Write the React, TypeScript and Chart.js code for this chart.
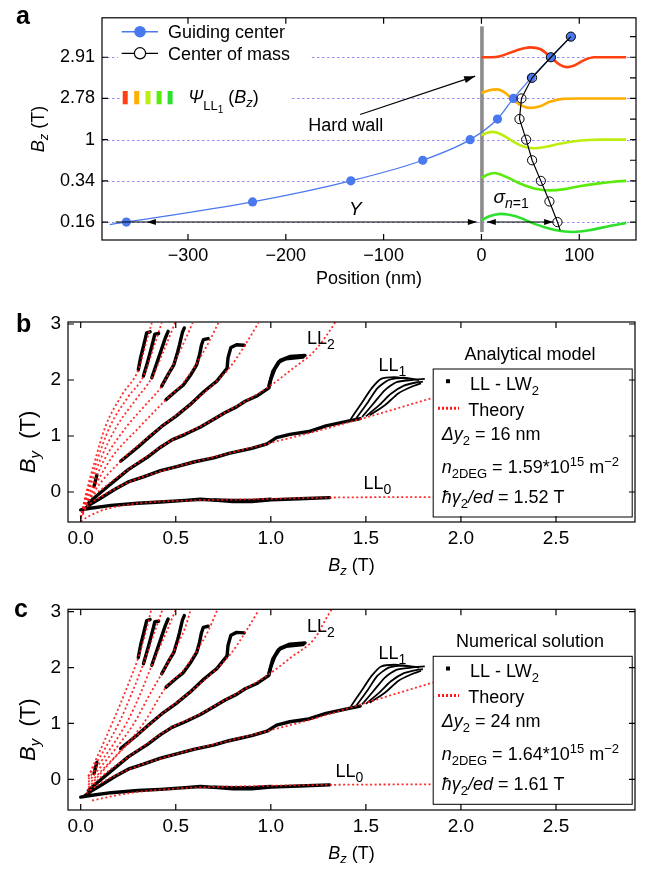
import React, { useEffect, useRef } from 'react';
import { Chart, registerables } from 'chart.js';

Chart.register(...registerables);

const FONT = '"Liberation Sans", Arial, Helvetica, sans-serif';
Chart.defaults.font.family = FONT;
type P = [number, number];

// ---------------- Panel a data ----------------
const positionTicks = [-300, -200, -100, 0, 100];
const bzLevels = [0, 1, 2, 3, 4];
const bzLevelLabels = ['0.16', '0.34', '1', '2.78', '2.91'];
const bzMinorLevels = [0, 0.5, 1, 1.5, 2, 2.5, 3, 3.5, 4, 4.5];
const guidingCenter: P[] = [[-380, -0.06], [-363, 0], [-234, 0.49], [-133.5, 1.0], [-60, 1.5], [-11.6, 2.0], [16.4, 2.5], [32.7, 3.0], [51, 3.5], [71, 4.0], [91.4, 4.5]];
const centerOfMass: P[] = [[80.5, -0.2], [77.7, 0], [69.5, 0.5], [60.7, 1.0], [51.8, 1.5], [45.7, 2.0], [38.9, 2.5], [40.9, 3.0], [51.8, 3.5], [71, 4.0], [91.4, 4.5]];
const psi291: P[] = [[0, 4.0], [10, 4.0], [20, 4.03], [35, 4.16], [50, 4.24], [60, 4.2], [71, 4.0], [80, 3.82], [87, 3.76], [95, 3.8], [105, 3.93], [115, 4.0], [130, 4.0], [148, 4.0]];
const psi278: P[] = [[0, 3.13], [8, 3.2], [16, 3.22], [24, 3.14], [30, 3.02], [40, 2.84], [50, 2.77], [60, 2.81], [70, 2.92], [83, 2.99], [100, 3.0], [148, 3.0]];
const psi100: P[] = [[0, 2.11], [6, 2.17], [12, 2.19], [20, 2.13], [30, 1.99], [42, 1.84], [53, 1.79], [65, 1.82], [80, 1.9], [95, 1.96], [110, 1.99], [121, 2.0], [148, 2.0]];
const psi034: P[] = [[0, 1.07], [6, 1.15], [13, 1.19], [25, 1.1], [40, 0.93], [55, 0.81], [70, 0.77], [85, 0.8], [100, 0.87], [120, 0.94], [135, 0.98], [148, 1.0]];
const psi016: P[] = [[0, 0.04], [8, 0.14], [20, 0.2], [35, 0.14], [55, -0.05], [75, -0.19], [94, -0.24], [110, -0.2], [130, -0.1], [148, -0.02]];
const psiColors = ['#ff4010', '#ffae00', '#bdee10', '#5aeb0a', '#2ee02e'];
const wallSpan = [-0.24, 4.75];
const hardWallArrow: P[] = [[-124, 2.61], [-6.4, 3.54]];
const hardWallText: P = [-177, 2.21];
const yArrow = [-374, -342, -4.7];
const sigmaArrow = [5.5, 73.3];
const yTextPos: P = [-129, 0.16];
const sigmaTextPos: P = [12.3, 0.47];

// ---------------- Panels b / c data ----------------
const bzTicks = [0, 0.5, 1, 1.5, 2, 2.5];
const byTicks = [0, 1, 2, 3];

const dataLL0: P[] = [[0.0, -0.32], [0.05, -0.29], [0.16, -0.24], [0.3, -0.2], [0.42, -0.18], [0.55, -0.15], [0.63, -0.13], [0.72, -0.15], [0.8, -0.17], [0.9, -0.17], [1.0, -0.14], [1.15, -0.12], [1.31, -0.1]];
const dataLL0b: P[] = [[0.7, -0.14], [0.8, -0.15], [0.9, -0.15], [1.0, -0.13]];
const dataLL1: P[] = [[0.02, -0.3], [0.06, -0.2], [0.1, -0.12], [0.18, 0.05], [0.25, 0.18], [0.33, 0.27], [0.42, 0.38], [0.5, 0.45], [0.6, 0.54], [0.7, 0.61], [0.78, 0.69], [0.9, 0.78], [0.98, 0.86], [1.03, 0.97], [1.1, 1.03], [1.2, 1.08], [1.29, 1.18], [1.4, 1.26], [1.47, 1.31]];
const bundle1: P[] = [[1.42, 1.3], [1.48, 1.6], [1.53, 1.85], [1.58, 2.02], [1.65, 2.05], [1.72, 2.02]];
const bundle2: P[] = [[1.45, 1.32], [1.51, 1.6], [1.56, 1.85], [1.62, 2.0], [1.7, 2.04], [1.78, 2.0]];
const bundle3: P[] = [[1.48, 1.34], [1.54, 1.58], [1.6, 1.82], [1.66, 1.96], [1.74, 2.0], [1.81, 2.02]];
const bundle4: P[] = [[1.5, 1.35], [1.57, 1.55], [1.63, 1.75], [1.7, 1.9], [1.77, 1.96], [1.8, 1.97]];
const bundle5: P[] = [[1.52, 1.37], [1.6, 1.55], [1.67, 1.76], [1.74, 1.88], [1.79, 1.94]];
const dataLL2: P[] = [[0.04, -0.2], [0.08, -0.08], [0.15, 0.12], [0.25, 0.4], [0.35, 0.62], [0.42, 0.8], [0.48, 0.93], [0.55, 1.03], [0.63, 1.16], [0.7, 1.3], [0.76, 1.42], [0.82, 1.52], [0.865, 1.62], [0.93, 1.72], [0.99, 1.86], [1.0, 2.01], [1.02, 2.19], [1.05, 2.35], [1.1, 2.42], [1.18, 2.44]];
const dataLL2hook: P[] = [[0.99, 1.9], [1.01, 2.15], [1.04, 2.32], [1.08, 2.38], [1.17, 2.41]];
const dataA: P[] = [[0.21, 0.55], [0.3, 0.8], [0.36, 0.98], [0.426, 1.17], [0.5, 1.35], [0.575, 1.56], [0.65, 1.8], [0.716, 1.98], [0.77, 2.21], [0.775, 2.4], [0.79, 2.58], [0.82, 2.63], [0.86, 2.62]];
const dataE: P[] = [[0.449, 1.65], [0.5, 1.8], [0.54, 1.91], [0.58, 2.1], [0.61, 2.27], [0.625, 2.45], [0.635, 2.62], [0.645, 2.72], [0.67, 2.74]];
const dataT4: P[] = [[0.426, 1.89], [0.46, 2.1], [0.49, 2.27], [0.51, 2.5], [0.52, 2.63], [0.535, 2.85], [0.545, 2.93]];
const dataT3: P[] = [[0.374, 2.04], [0.4, 2.3], [0.425, 2.55], [0.445, 2.75], [0.46, 2.87]];
const dataT2: P[] = [[0.33, 2.07], [0.35, 2.3], [0.37, 2.55], [0.39, 2.82], [0.41, 2.83]];
const dataT1: P[] = [[0.303, 2.18], [0.315, 2.4], [0.33, 2.6], [0.347, 2.84], [0.365, 2.86]];
const dataBlip: P[] = [[0.07, 0.1], [0.085, 0.3]];

const thB1: P[] = [[0.0, -0.45], [0.03, 0.0], [0.07, 0.5], [0.13, 1.17], [0.22, 1.75], [0.303, 2.18], [0.347, 2.7], [0.374, 3.02]];
const thB2: P[] = [[0.0, -0.45], [0.035, 0.0], [0.08, 0.5], [0.154, 1.17], [0.25, 1.7], [0.33, 2.07], [0.39, 2.65], [0.426, 3.02]];
const thB3: P[] = [[0.0, -0.45], [0.04, 0.0], [0.1, 0.55], [0.189, 1.17], [0.29, 1.65], [0.374, 2.04], [0.44, 2.55], [0.496, 3.02]];
const thB4: P[] = [[0.0, -0.45], [0.05, 0.0], [0.12, 0.55], [0.242, 1.17], [0.34, 1.55], [0.426, 1.89], [0.49, 2.3], [0.55, 2.72], [0.589, 3.02]];
const thB5: P[] = [[0.0, -0.45], [0.06, 0.0], [0.16, 0.6], [0.312, 1.17], [0.449, 1.65], [0.54, 1.95], [0.61, 2.3], [0.67, 2.65], [0.724, 3.02]];
const thB6: P[] = [[0.0, -0.45], [0.07, 0.0], [0.21, 0.55], [0.426, 1.17], [0.575, 1.56], [0.716, 1.98], [0.79, 2.25], [0.86, 2.6], [0.935, 3.02]];
const thBLL2: P[] = [[0.0, -0.45], [0.04, -0.15], [0.11, 0.05], [0.25, 0.4], [0.48, 0.93], [0.63, 1.17], [0.76, 1.42], [0.87, 1.63], [0.99, 1.88], [1.11, 2.19], [1.23, 2.52], [1.32, 2.93], [1.34, 3.04]];
const thBLL1: P[] = [[0.0, -0.48], [0.03, -0.28], [0.1, -0.1], [0.25, 0.17], [0.42, 0.37], [0.6, 0.54], [0.78, 0.69], [1.0, 0.88], [1.2, 1.05], [1.53, 1.36], [1.9, 1.73]];
const thBLL0: P[] = [[0.0, -0.52], [0.05, -0.42], [0.13, -0.31], [0.34, -0.19], [0.6, -0.15], [0.9, -0.13], [1.3, -0.1], [1.9, -0.09]];

const thC1: P[] = [[0.04, 0.05], [0.165, 1.0], [0.25, 1.7], [0.303, 2.18], [0.347, 2.7], [0.37, 3.02]];
const thC2: P[] = [[0.04, 0.05], [0.2, 1.0], [0.27, 1.55], [0.33, 2.07], [0.39, 2.65], [0.428, 3.02]];
const thC3: P[] = [[0.04, 0.0], [0.24, 1.0], [0.31, 1.5], [0.374, 2.04], [0.44, 2.55], [0.498, 3.02]];
const thC4: P[] = [[0.04, -0.05], [0.28, 1.0], [0.36, 1.5], [0.426, 1.89], [0.49, 2.3], [0.55, 2.72], [0.577, 3.02]];
const thC5: P[] = [[0.04, -0.1], [0.33, 1.0], [0.449, 1.65], [0.54, 1.95], [0.61, 2.3], [0.67, 2.65], [0.717, 3.02]];
const thC6: P[] = [[0.04, -0.15], [0.21, 0.5], [0.426, 1.17], [0.575, 1.56], [0.716, 1.98], [0.79, 2.25], [0.86, 2.6], [0.935, 3.02]];
const thCLL2: P[] = [[0.035, -0.2], [0.11, 0.05], [0.25, 0.4], [0.48, 0.93], [0.63, 1.17], [0.76, 1.42], [0.87, 1.63], [0.99, 1.88], [1.11, 2.19], [1.23, 2.52], [1.3, 2.93], [1.32, 3.04]];
const thCLL1: P[] = [[0.03, -0.25], [0.1, -0.08], [0.25, 0.17], [0.42, 0.37], [0.6, 0.54], [0.78, 0.69], [1.0, 0.88], [1.2, 1.06], [1.53, 1.4], [1.9, 1.78]];
const thCLL0: P[] = [[0.06, -0.38], [0.25, -0.25], [0.53, -0.16], [0.8, -0.13], [1.3, -0.1], [1.9, -0.09]];

const llLabelPosB: P[] = [[1.487, 0.05], [1.566, 2.16], [1.19, 2.64]];
const llLabelPosC: P[] = [[1.34, 0.036], [1.566, 2.15], [1.19, 2.63]];
const paramsB = { title: 'Analytical model', dy: '16', n: '1.59', hg: '1.52' };
const paramsC = { title: 'Numerical solution', dy: '24', n: '1.64', hg: '1.61' };

// ---------------- helpers ----------------
const pts = (a: P[]) => a.map(([x, y]) => ({ x, y }));

type Seg = { t: string; i?: boolean; b?: boolean; s?: number; dy?: number };
function rich(ctx: any, segs: Seg[], x: number, y: number, align: string, base = 18) {
  const f = (g: Seg) => `${g.i ? 'italic ' : ''}${g.b ? 'bold ' : ''}${Math.round((g.s ?? 1) * base)}px ${FONT}`;
  let w = 0;
  for (const g of segs) { ctx.font = f(g); w += ctx.measureText(g.t).width; }
  let cx = align === 'left' ? x : align === 'center' ? x - w / 2 : x - w;
  ctx.textAlign = 'left';
  ctx.textBaseline = 'alphabetic';
  for (const g of segs) { ctx.font = f(g); ctx.fillText(g.t, cx, y + (g.dy ?? 0)); cx += ctx.measureText(g.t).width; }
}
function line(ctx: any, x1: number, y1: number, x2: number, y2: number) {
  ctx.beginPath(); ctx.moveTo(x1, y1); ctx.lineTo(x2, y2); ctx.stroke();
}
function arrowHead(ctx: any, fx: number, fy: number, tx: number, ty: number, len = 9, hw = 3.2) {
  const a = Math.atan2(ty - fy, tx - fx);
  ctx.beginPath();
  ctx.moveTo(tx, ty);
  ctx.lineTo(tx - len * Math.cos(a) + hw * Math.sin(a), ty - len * Math.sin(a) - hw * Math.cos(a));
  ctx.lineTo(tx - len * Math.cos(a) - hw * Math.sin(a), ty - len * Math.sin(a) + hw * Math.cos(a));
  ctx.closePath(); ctx.fill();
}
function frameTicks(chart: any, xt: number[], yl: number[], yr: number[], len = 6) {
  const { ctx, chartArea: ca, scales: { x, y } } = chart;
  ctx.save();
  ctx.strokeStyle = '#000'; ctx.lineWidth = 1.2;
  ctx.strokeRect(ca.left, ca.top, ca.right - ca.left, ca.bottom - ca.top);
  ctx.beginPath();
  for (const v of xt) {
    const px = x.getPixelForValue(v);
    ctx.moveTo(px, ca.bottom); ctx.lineTo(px, ca.bottom - len);
    ctx.moveTo(px, ca.top); ctx.lineTo(px, ca.top + len);
  }
  for (const v of yl) { const py = y.getPixelForValue(v); ctx.moveTo(ca.left, py); ctx.lineTo(ca.left + len, py); }
  for (const v of yr) { const py = y.getPixelForValue(v); ctx.moveTo(ca.right, py); ctx.lineTo(ca.right - len, py); }
  ctx.stroke();
  ctx.restore();
}

const BLUE = '#4a78ee';
const DASH = 'rgba(105,105,240,0.75)';

// ---------------- panel a ----------------
function buildA(): any {
  const decor = {
    id: 'decorA',
    beforeDatasetsDraw(chart: any) {
      const { ctx, chartArea: ca, scales: { x, y } } = chart;
      ctx.save();
      ctx.strokeStyle = DASH; ctx.lineWidth = 1; ctx.setLineDash([2.5, 2.5]);
      for (const lv of bzLevels) {
        const py = Math.round(y.getPixelForValue(lv)) + 0.5;
        line(ctx, ca.left, py, ca.right, py);
      }
      ctx.setLineDash([]);
      ctx.fillStyle = '#fff';
      const p4 = y.getPixelForValue(4), p3 = y.getPixelForValue(3);
      ctx.fillRect(118, p4 - 8, 193, 16);
      ctx.fillRect(121, p3 - 8, 169, 16);
      ctx.strokeStyle = '#8c8c8c'; ctx.lineWidth = 3.6;
      const wx = x.getPixelForValue(0) + 0.5;
      line(ctx, wx, y.getPixelForValue(wallSpan[0]), wx, y.getPixelForValue(wallSpan[1]));
      ctx.restore();
    },
    afterDatasetsDraw(chart: any) {
      const { ctx, chartArea: ca, scales: { x, y } } = chart;
      frameTicks(chart, positionTicks, bzLevels, bzMinorLevels);
      ctx.save();
      ctx.fillStyle = '#000'; ctx.strokeStyle = '#000';
      // legend
      ctx.strokeStyle = BLUE; ctx.lineWidth = 1.4; line(ctx, 121.7, 31.7, 158, 31.7);
      ctx.fillStyle = BLUE; ctx.beginPath(); ctx.arc(140, 31.7, 5.8, 0, Math.PI * 2); ctx.fill();
      ctx.strokeStyle = '#000'; ctx.lineWidth = 1.2; line(ctx, 121.7, 53.3, 158, 53.3);
      ctx.fillStyle = '#fff'; ctx.beginPath(); ctx.arc(140, 53.3, 5.6, 0, Math.PI * 2); ctx.fill(); ctx.stroke();
      ctx.fillStyle = '#000';
      rich(ctx, [{ t: 'Guiding center' }], 168, 38, 'left');
      rich(ctx, [{ t: 'Center of mass' }], 168, 60, 'left');
      const barX = [122.7, 134.2, 145.5, 156.6, 167.6];
      barX.forEach((bx, i) => { ctx.fillStyle = psiColors[i]; ctx.fillRect(bx, 91, 5, 13.3); });
      ctx.fillStyle = '#000';
      rich(ctx, [{ t: 'Ψ', i: true }, { t: 'LL', s: 0.72, dy: 7 }, { t: '1', s: 0.58, dy: 10 }, { t: ' (' }, { t: 'B', i: true }, { t: 'z', i: true, s: 0.7, dy: 4 }, { t: ')' }], 188.3, 103, 'left');
      // hard wall arrow
      ctx.lineWidth = 1.2;
      const [[ax1, ay1], [ax2, ay2]] = hardWallArrow;
      const hx1 = x.getPixelForValue(ax1), hy1 = y.getPixelForValue(ay1), hx2 = x.getPixelForValue(ax2), hy2 = y.getPixelForValue(ay2);
      line(ctx, hx1, hy1, hx2, hy2);
      arrowHead(ctx, hx1, hy1, hx2, hy2, 11, 3.5);
      rich(ctx, [{ t: 'Hard wall' }], x.getPixelForValue(hardWallText[0]), y.getPixelForValue(hardWallText[1]), 'left');
      // Y arrow
      const y0 = y.getPixelForValue(0);
      ctx.lineWidth = 1.1;
      line(ctx, x.getPixelForValue(yArrow[0]), y0, x.getPixelForValue(yArrow[2]), y0);
      arrowHead(ctx, x.getPixelForValue(yArrow[2]), y0, x.getPixelForValue(yArrow[1]), y0, 9, 3);
      arrowHead(ctx, x.getPixelForValue(yArrow[1]), y0, x.getPixelForValue(yArrow[2]), y0, 9, 3);
      // sigma arrow
      const s1 = x.getPixelForValue(sigmaArrow[0]), s2 = x.getPixelForValue(sigmaArrow[1]);
      line(ctx, s1, y0, s2, y0);
      arrowHead(ctx, s2, y0, s1, y0, 9, 3);
      arrowHead(ctx, s1, y0, s2, y0, 9, 3);
      rich(ctx, [{ t: 'Y', i: true }], x.getPixelForValue(yTextPos[0]), y.getPixelForValue(yTextPos[1]), 'center', 19);
      rich(ctx, [{ t: 'σ', i: true }, { t: 'n', i: true, s: 0.72, dy: 5 }, { t: '=1', s: 0.72, dy: 5 }], x.getPixelForValue(sigmaTextPos[0]), y.getPixelForValue(sigmaTextPos[1]), 'left', 19);
      // axis titles
      rich(ctx, [{ t: 'Position (nm)' }], (ca.left + ca.right) / 2, 284, 'center');
      ctx.save();
      ctx.translate(44, (ca.top + ca.bottom) / 2);
      ctx.rotate(-Math.PI / 2);
      rich(ctx, [{ t: 'B', i: true }, { t: 'z', i: true, s: 0.7, dy: 4 }, { t: ' (T)' }], 0, 0, 'center');
      ctx.restore();
      rich(ctx, [{ t: 'a', b: true }], 16, 24, 'left', 25);
      ctx.restore();
    },
  };
  const psis = [psi291, psi278, psi100, psi034, psi016];
  return {
    type: 'scatter',
    data: {
      datasets: [
        {
          label: 'Center of mass', data: pts(centerOfMass), showLine: true, borderColor: '#000', borderWidth: 1.2,
          pointRadius: centerOfMass.map((_, i) => (i === 0 ? 0 : 4.6)), pointBorderColor: '#000', pointBorderWidth: 1,
          pointBackgroundColor: 'rgba(0,0,0,0)', tension: 0, order: 0,
        },
        {
          label: 'Guiding center', data: pts(guidingCenter), showLine: true, borderColor: BLUE, borderWidth: 1.3,
          pointRadius: guidingCenter.map((_, i) => (i === 0 ? 0 : 4.6)), pointBorderWidth: 0,
          pointBackgroundColor: BLUE, cubicInterpolationMode: 'monotone', order: 1,
        },
        ...psis.map((p, i) => ({
          label: 'psi' + i, data: pts(p), showLine: true, borderColor: psiColors[i], borderWidth: 2.6,
          pointRadius: 0, cubicInterpolationMode: 'monotone', order: 2,
        })),
      ],
    },
    options: {
      animation: false, responsive: false, events: [],
      layout: { padding: { top: 13, right: 9, left: 0, bottom: 0 } },
      plugins: { legend: { display: false }, tooltip: { enabled: false } },
      scales: {
        x: {
          type: 'linear', min: -387.9, max: 158,
          afterBuildTicks: (s: any) => { s.ticks = positionTicks.map((v) => ({ value: v })); },
          afterFit: (s: any) => { s.height = 50; },
          ticks: { callback: (v: any) => (v < 0 ? '\u2212' + Math.abs(v) : String(v)), font: { size: 18, family: FONT }, color: '#000', padding: 5, maxRotation: 0, autoSkip: false },
          grid: { display: false, drawTicks: false }, border: { display: false },
        },
        y: {
          type: 'linear', min: -0.435, max: 4.957,
          afterBuildTicks: (s: any) => { s.ticks = bzLevels.map((v) => ({ value: v })); },
          afterFit: (s: any) => { s.width = 102; },
          ticks: { callback: (_v: any, i: number) => bzLevelLabels[i], font: { size: 18, family: FONT }, color: '#000', padding: 7, autoSkip: false },
          grid: { display: false, drawTicks: false }, border: { display: false },
        },
      },
    },
    plugins: [decor],
  };
}

// ---------------- panels b / c ----------------
const blackTraces = [dataLL0, dataLL0b, dataLL1, dataLL2, dataLL2hook, dataA, dataE, dataT4, dataT3, dataT2, dataT1, dataBlip];
const bundleTraces = [bundle1, bundle2, bundle3, bundle4, bundle5];
const theoryB = [thBLL0, thBLL1, thBLL2, thB6, thB5, thB4, thB3, thB2, thB1];
const theoryC = [thCLL0, thCLL1, thCLL2, thC6, thC5, thC4, thC3, thC2, thC1];

function buildBC(which: 'b' | 'c'): any {
  const theory = which === 'b' ? theoryB : theoryC;
  const prm = which === 'b' ? paramsB : paramsC;
  const labels = which === 'b' ? llLabelPosB : llLabelPosC;
  const padTop = which === 'b' ? 32 : 34.3;
  const axisH = which === 'b' ? 53 : 59;
  const yMin = which === 'b' ? -0.536 : -0.55;
  const yMax = which === 'b' ? 3.036 : 3.043;
  const decor = {
    id: 'decor' + which,
    afterDatasetsDraw(chart: any) {
      const { ctx, chartArea: ca, scales: { x, y } } = chart;
      ctx.save();
      // legend box
      const L = ca.right - 202.3, T = ca.top + 46.5, W = 199, H = 148;
      ctx.fillStyle = '#fff'; ctx.fillRect(L, T, W, H);
      ctx.strokeStyle = '#000'; ctx.lineWidth = 1; ctx.strokeRect(L + 0.5, T + 0.5, W, H);
      ctx.fillStyle = '#000';
      rich(ctx, [{ t: prm.title }], L + 97.3, T - 8.5, 'center');
      ctx.fillRect(L + 13.3, T + 10.7, 4, 4);
      rich(ctx, [{ t: 'LL - LW' }, { t: '2', s: 0.72, dy: 5 }], L + 37.3, T + 21, 'left');
      ctx.save(); ctx.strokeStyle = '#ff1a1a'; ctx.lineWidth = 3; ctx.setLineDash([2, 2]);
      line(ctx, L + 5.3, T + 39.8, L + 26.3, T + 39.8); ctx.restore();
      rich(ctx, [{ t: 'Theory' }], L + 35.6, T + 47, 'left');
      rich(ctx, [{ t: 'Δ', i: true }, { t: 'y', i: true }, { t: '2', s: 0.72, dy: 5 }, { t: ' = ' + prm.dy + ' nm' }], L + 9, T + 71.5, 'left');
      rich(ctx, [{ t: 'n', i: true }, { t: '2DEG', s: 0.72, dy: 5 }, { t: ' = ' + prm.n + '*10' }, { t: '15', s: 0.72, dy: -7 }, { t: ' m' }, { t: '\u22122', s: 0.72, dy: -7 }], L + 9, T + 104.5, 'left');
      rich(ctx, [{ t: 'ħγ', i: true }, { t: '2', s: 0.72, dy: 5 }, { t: '/ed', i: true }, { t: ' = ' + prm.hg + ' T' }], L + 9, T + 134, 'left');
      // LL labels
      labels.forEach(([lx, ly], i) => {
        rich(ctx, [{ t: 'LL' }, { t: String(i), s: 0.75, dy: 5 }], x.getPixelForValue(lx), y.getPixelForValue(ly), 'left');
      });
      // axis titles
      rich(ctx, [{ t: 'B', i: true }, { t: 'z', i: true, s: 0.7, dy: 4 }, { t: ' (T)' }], (ca.left + ca.right) / 2, ca.bottom + 48.5, 'center');
      ctx.save();
      ctx.translate(35, (ca.top + ca.bottom) / 2 + 20);
      ctx.rotate(-Math.PI / 2);
      rich(ctx, [{ t: 'B', i: true }, { t: 'y', i: true, s: 0.7, dy: 5 }, { t: '  (T)' }], 0, 0, 'center', 22);
      ctx.restore();
      rich(ctx, [{ t: which, b: true }], which === 'b' ? 16 : 14, 42, 'left', 25);
      ctx.restore();
      frameTicks(chart, bzTicks, byTicks, byTicks);
    },
  };
  return {
    type: 'scatter',
    data: {
      datasets: [
        ...theory.map((t, i) => ({
          label: 'theory' + i, data: pts(t), showLine: true, borderColor: 'rgba(255,20,20,0.9)', borderWidth: 1.8,
          borderDash: [2, 2.5], pointRadius: 0, cubicInterpolationMode: 'monotone', order: 0,
        })),
        ...blackTraces.map((t, i) => ({
          label: 'data' + i, data: pts(t), showLine: true, borderColor: '#000', borderWidth: 3.4,
          borderJoinStyle: 'round', borderCapStyle: 'round', pointRadius: 0, tension: 0, order: 1,
        })),
        ...bundleTraces.map((t, i) => ({
          label: 'bundle' + i, data: pts(t), showLine: true, borderColor: '#000', borderWidth: 1.8,
          borderJoinStyle: 'round', pointRadius: 0, tension: 0.2, order: 1,
        })),
      ],
    },
    options: {
      animation: false, responsive: false, events: [],
      layout: { padding: { top: padTop, right: 10, left: 0, bottom: 0 } },
      plugins: { legend: { display: false }, tooltip: { enabled: false } },
      scales: {
        x: {
          type: 'linear', min: -0.0668, max: 2.9156,
          afterBuildTicks: (s: any) => { s.ticks = bzTicks.map((v) => ({ value: v })); },
          afterFit: (s: any) => { s.height = axisH; },
          ticks: { callback: (v: any) => Number(v).toFixed(1), font: { size: 19, family: FONT }, color: '#000', padding: 5, maxRotation: 0, autoSkip: false },
          grid: { display: false, drawTicks: false }, border: { display: false },
        },
        y: {
          type: 'linear', min: yMin, max: yMax,
          afterBuildTicks: (s: any) => { s.ticks = byTicks.map((v) => ({ value: v })); },
          afterFit: (s: any) => { s.width = 68; },
          ticks: { callback: (v: any) => String(v), font: { size: 19, family: FONT }, color: '#000', padding: 7, autoSkip: false },
          grid: { display: false, drawTicks: false }, border: { display: false },
        },
      },
    },
    plugins: [decor],
  };
}

function ChartPanel({ top, height, build }: { top: number; height: number; build: () => any }) {
  const ref = useRef<HTMLCanvasElement>(null);
  useEffect(() => {
    const chart = new Chart(ref.current as HTMLCanvasElement, build());
    return () => chart.destroy();
  }, []);
  return (
    <canvas ref={ref} width={645} height={height}
      style={{ position: 'absolute', left: 0, top, width: 645, height, display: 'block' }} />
  );
}

export default function App() {
  return (
    <div style={{ position: 'absolute', left: 0, top: 0, width: 645, height: 869, background: '#fff', overflow: 'hidden' }}>
      <ChartPanel top={0} height={290} build={buildA} />
      <ChartPanel top={290} height={285} build={() => buildBC('b')} />
      <ChartPanel top={575} height={294} build={() => buildBC('c')} />
    </div>
  );
}
